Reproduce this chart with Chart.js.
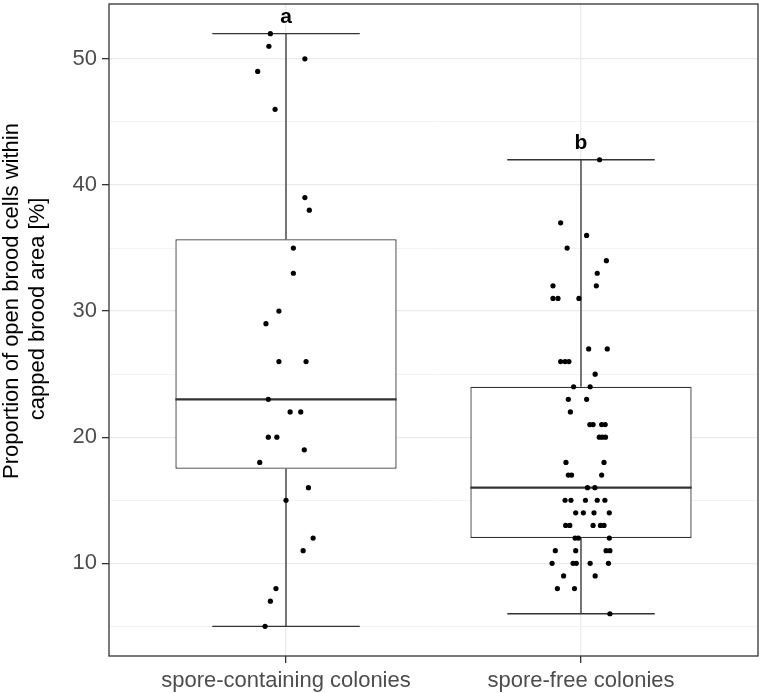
<!DOCTYPE html>
<html>
<head>
<meta charset="utf-8">
<script src="https://cdn.jsdelivr.net/npm/chart.js@4.4.1/dist/chart.umd.min.js"></script>
<style>
  html, body { margin: 0; padding: 0; background: #fff; }
  #wrap { width: 762px; height: 693px; }
</style>
</head>
<body>
<div id="wrap"><canvas id="boxChart"></canvas></div>
<script>
const groups = ['spore-containing colonies', 'spore-free colonies'];
const groupPos = [1, 2];
const sigLetters = ['a', 'b'];
const yTitle = ['Proportion of open brood cells within', 'capped brood area [%]'];

// box summary
const whiskerLow = [5, 6];
const q1 = [17.5, 12];
const median = [23, 16];
const q3 = [35.7, 24];
const whiskerHigh = [52, 42];

// jittered points (x = group position + jitter)
const sporeX = [0.947, 0.942, 1.064, 0.904, 0.963, 1.064, 1.079, 1.025, 1.025, 0.976,
  0.932, 0.976, 1.068, 0.940, 1.014, 1.050, 0.940, 0.969, 1.062, 0.911,
  1.076, 1.000, 1.092, 1.058, 0.966, 0.947, 0.929];
const sporeY = [52, 51, 50, 49, 46, 39, 38, 35, 33, 30,
  29, 26, 26, 23, 22, 22, 20, 20, 19, 18,
  16, 15, 12, 11, 8, 7, 5];

const freeX = [2.063, 1.931, 2.019, 1.953, 2.086, 2.055, 1.905, 2.052, 1.905, 1.922,
  1.993, 2.026, 2.089, 1.931, 1.946, 1.959, 2.048, 1.975, 2.031, 1.957,
  2.019, 1.964, 2.030, 2.041, 2.070, 2.082, 2.062, 2.072, 2.083, 1.949,
  2.078, 1.957, 1.968, 2.070, 2.022, 2.047, 1.946, 1.966, 2.015, 2.055,
  2.081, 1.982, 2.008, 2.044, 2.096, 1.948, 1.962, 2.041, 2.066, 2.078,
  1.980, 1.991, 2.096, 1.913, 1.982, 2.085, 2.098, 1.902, 1.973, 1.984,
  2.031, 2.093, 1.941, 2.048, 1.920, 1.978, 2.098];
const freeY = [42, 37, 36, 35, 34, 33, 32, 32, 31, 31,
  31, 27, 27, 26, 26, 26, 25, 24, 24, 23,
  23, 22, 21, 21, 21, 21, 20, 20, 20, 18,
  18, 17, 17, 17, 16, 16, 15, 15, 15, 15,
  15, 14, 14, 14, 14, 13, 13, 13, 13, 13,
  12, 12, 12, 11, 11, 11, 11, 10, 10, 10,
  10, 10, 9, 9, 8, 8, 6];

const yTicks = [5, 10, 15, 20, 25, 30, 35, 40, 45, 50];
const yMin = 2.65;
const yMax = 54.35;

const BOX_W = 0.75;
const CAP_W = 0.5;
const LINE = '#333333';
const FONT = "'Liberation Sans', Arial, sans-serif";

// whisker segments + caps, null breaks the line
const whiskerPts = [];
groupPos.forEach((c, i) => {
  whiskerPts.push({x: c, y: q3[i]}, {x: c, y: whiskerHigh[i]}, {x: c, y: null});
  whiskerPts.push({x: c, y: q1[i]}, {x: c, y: whiskerLow[i]}, {x: c, y: null});
  whiskerPts.push({x: c - CAP_W / 2, y: whiskerHigh[i]}, {x: c + CAP_W / 2, y: whiskerHigh[i]}, {x: c, y: null});
  whiskerPts.push({x: c - CAP_W / 2, y: whiskerLow[i]}, {x: c + CAP_W / 2, y: whiskerLow[i]}, {x: c, y: null});
});

const medianPts = [];
groupPos.forEach((c, i) => {
  medianPts.push({x: c - BOX_W / 2, y: median[i]}, {x: c + BOX_W / 2, y: median[i]}, {x: c, y: null});
});

const points = sporeX.map((x, i) => ({x, y: sporeY[i]}))
  .concat(freeX.map((x, i) => ({x, y: freeY[i]})));

const panelPlugin = {
  id: 'panel',
  afterDatasetsDraw(chart) {
    const {ctx, chartArea: a, scales: {x, y}} = chart;
    ctx.save();
    ctx.font = 'bold 21px ' + FONT;
    ctx.fillStyle = '#000';
    ctx.textAlign = 'center';
    ctx.textBaseline = 'alphabetic';
    sigLetters.forEach((t, i) => {
      ctx.fillText(t, x.getPixelForValue(groupPos[i]), y.getPixelForValue(whiskerHigh[i]) - 11);
    });
    ctx.strokeStyle = LINE;
    ctx.lineWidth = 1.3;
    ctx.strokeRect(a.left, a.top, a.width, a.height);

    // y axis title, two centred lines
    ctx.font = '22px ' + FONT;
    ctx.textBaseline = 'middle';
    [[12, 301], [38, 309]].forEach(([tx, ty], i) => {
      ctx.save();
      ctx.translate(tx, ty);
      ctx.rotate(-Math.PI / 2);
      ctx.fillText(yTitle[i], 0, 0);
      ctx.restore();
    });
    ctx.restore();
  }
};

new Chart(document.getElementById('boxChart'), {
  type: 'scatter',
  data: {
    datasets: [
      {
        type: 'scatter',
        data: points,
        pointRadius: 2.6,
        pointBackgroundColor: '#000',
        pointBorderWidth: 0,
        order: 0
      },
      {
        type: 'line',
        data: medianPts,
        borderColor: LINE,
        borderWidth: 2.2,
        pointRadius: 0,
        spanGaps: false,
        order: 1
      },
      {
        type: 'bar',
        data: groupPos.map((c, i) => ({x: c, y: [q1[i], q3[i]]})),
        backgroundColor: '#fff',
        borderColor: LINE,
        borderWidth: 1.3,
        borderSkipped: false,
        barPercentage: BOX_W,
        categoryPercentage: 1,
        order: 2
      },
      {
        type: 'line',
        data: whiskerPts,
        borderColor: LINE,
        borderWidth: 1.3,
        pointRadius: 0,
        spanGaps: false,
        order: 3
      }
    ]
  },
  options: {
    responsive: true,
    maintainAspectRatio: false,
    animation: false,
    events: [],
    layout: { padding: { top: 0, right: 4, left: 0, bottom: 0 } },
    plugins: {
      legend: { display: false },
      tooltip: { enabled: false }
    },
    scales: {
      x: {
        type: 'linear',
        min: 0.4,
        max: 2.6,
        offset: false,
        afterBuildTicks(scale) {
          scale.ticks = groupPos.map(v => ({value: v}));
        },
        afterFit(scale) {
          scale.height = 37;
          scale.paddingLeft = 0;
          scale.paddingRight = 0;
        },
        border: { display: false },
        grid: {
          offset: false,
          color: '#ebebeb',
          lineWidth: 1.3,
          tickLength: 7,
          tickColor: LINE,
          tickWidth: 1.3
        },
        ticks: {
          padding: 5,
          color: '#4d4d4d',
          font: { family: FONT, size: 22 },
          callback: v => groups[groupPos.indexOf(v)] ?? ''
        }
      },
      y: {
        type: 'linear',
        min: yMin,
        max: yMax,
        afterBuildTicks(scale) {
          scale.ticks = yTicks.map(v => ({value: v}));
        },
        afterFit(scale) {
          scale.width = 109;
          scale.paddingTop = 0;
          scale.paddingBottom = 0;
        },
        border: { display: false },
        grid: {
          color: ctx => ctx.tick && ctx.tick.value % 10 === 0 ? '#ebebeb' : '#f3f3f3',
          lineWidth: ctx => ctx.tick && ctx.tick.value % 10 === 0 ? 1.3 : 1,
          tickLength: 7,
          tickColor: ctx => ctx.tick && ctx.tick.value % 10 === 0 ? LINE : 'rgba(0,0,0,0)',
          tickWidth: 1.3
        },
        ticks: {
          padding: 5,
          color: '#4d4d4d',
          font: { family: FONT, size: 22 },
          callback: v => v % 10 === 0 ? String(v) : ''
        }
      }
    }
  },
  plugins: [panelPlugin]
});
</script>
</body>
</html>
